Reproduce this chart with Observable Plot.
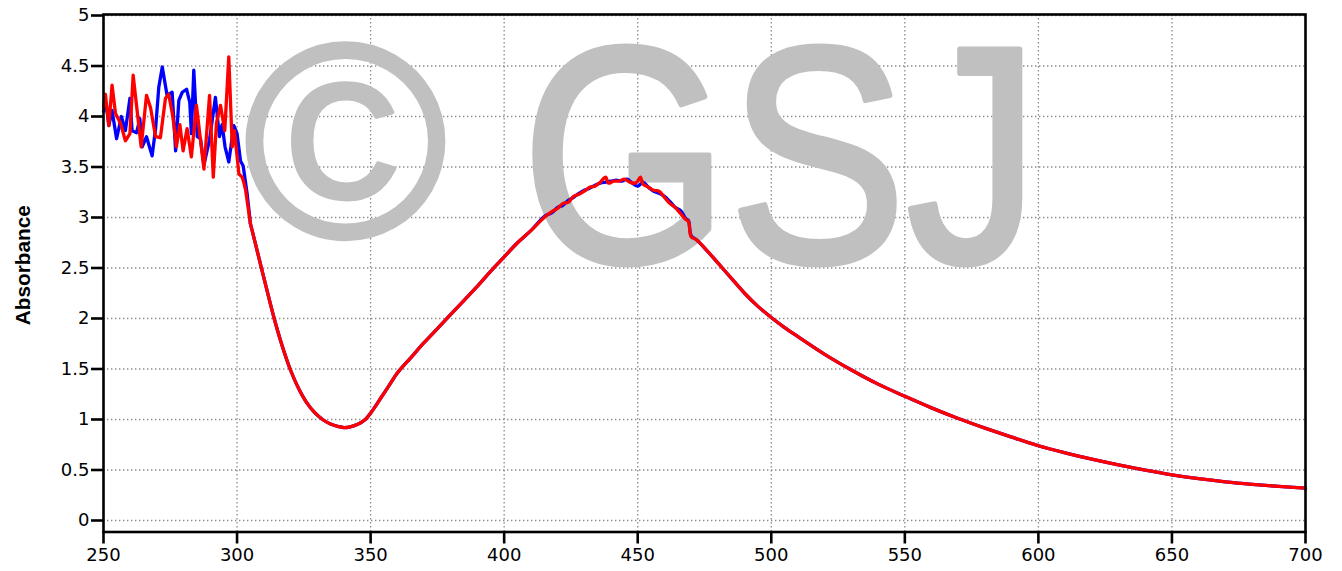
<!DOCTYPE html>
<html>
<head>
<meta charset="utf-8">
<script src="https://cdn.jsdelivr.net/npm/d3@7"></script>
<script src="https://cdn.jsdelivr.net/npm/@observablehq/plot@0.6"></script>
<style>
  html, body { margin: 0; padding: 0; background: #fff; }
</style>
</head>
<body>
<div id="chart"></div>
<script>
// ---- Data ----
const xTicks = [250, 300, 350, 400, 450, 500, 550, 600, 650, 700];
const yTicks = [0, 0.5, 1, 1.5, 2, 2.5, 3, 3.5, 4, 4.5, 5];

// noisy UV part, blue series
const noisyNmBlue = [250, 251, 252, 253.2, 254.9, 256.7, 258.2, 259.9, 260.7, 262.4, 263.6, 264.5, 266.1, 268.2, 269.5, 270.7, 272, 273.8, 275.7, 277, 278.2, 279.5, 281.1, 282.3, 282.9, 283.8, 285.1, 286.3, 287.6, 289.7, 291.9, 293.4, 294.4, 295.5, 296.9, 298.8, 300, 301.3, 302.3, 303.8, 305];
const noisyBlue   = [4.05, 4.12, 3.91, 4.06, 3.78, 4.00, 3.86, 4.18, 3.86, 3.84, 3.98, 3.70, 3.80, 3.61, 3.88, 4.29, 4.49, 4.21, 4.24, 3.66, 4.16, 4.24, 4.27, 4.14, 3.83, 4.46, 3.80, 3.78, 3.52, 3.77, 4.19, 3.80, 3.92, 3.70, 3.55, 3.91, 3.83, 3.56, 3.51, 3.23, 2.94];

// noisy UV part, red series
const noisyNmRed = [250, 250.7, 252, 253.2, 254.5, 256.4, 258.2, 259.9, 261.1, 264.1, 266.1, 267.6, 269.5, 271.3, 273.2, 274.4, 275.7, 276.3, 277.3, 278.6, 279.8, 281.3, 282.9, 284.8, 287.6, 289.7, 291.1, 292.3, 293.8, 295.4, 296.9, 298.2, 299, 300.7, 301.9, 302.5, 303.2, 305];
const noisyRed   = [4.10, 4.22, 3.91, 4.31, 4.03, 3.93, 3.76, 3.83, 4.41, 3.70, 4.21, 4.09, 3.80, 3.79, 4.18, 4.22, 4.04, 3.93, 3.70, 3.92, 3.66, 3.88, 3.60, 4.11, 3.48, 4.21, 3.40, 3.94, 4.11, 3.86, 4.59, 3.70, 3.86, 3.43, 3.40, 3.35, 3.27, 2.94];

// shared smooth part: minimum and rising edge
const riseNm  = [305, 308, 311, 314, 317, 320, 323, 326, 329, 332, 335, 338, 340, 342, 345, 348, 351, 354, 357, 360, 365, 370, 375, 380, 385, 390, 395, 400, 405, 410];
const riseAbs = [2.94, 2.62, 2.30, 1.99, 1.72, 1.49, 1.31, 1.17, 1.07, 1.00, 0.955, 0.93, 0.92, 0.925, 0.95, 1.00, 1.10, 1.22, 1.34, 1.46, 1.61, 1.76, 1.90, 2.04, 2.18, 2.32, 2.47, 2.61, 2.75, 2.87];

// band maximum, slightly noisy
const peakNmBlue = [415, 418, 420, 422, 424, 426, 428, 430, 432, 434, 436, 438, 440, 442, 444, 446, 448, 450, 452, 454, 456, 458, 460, 462, 464, 466, 468, 469, 470, 472];
const peakBlue   = [3.01, 3.05, 3.10, 3.12, 3.17, 3.20, 3.24, 3.27, 3.29, 3.32, 3.34, 3.35, 3.36, 3.37, 3.36, 3.38, 3.34, 3.31, 3.35, 3.30, 3.26, 3.24, 3.21, 3.16, 3.10, 3.07, 2.99, 2.97, 2.82, 2.78];
const peakNmRed  = [415, 418, 420, 422, 424, 426, 428, 430, 432, 434, 436, 438, 439, 441, 443, 445, 447, 449, 450, 451, 452, 454, 456, 458, 460, 462, 464, 466, 468, 469, 470, 472];
const peakRed    = [3.00, 3.06, 3.09, 3.14, 3.15, 3.21, 3.23, 3.26, 3.30, 3.31, 3.35, 3.40, 3.34, 3.36, 3.36, 3.38, 3.35, 3.34, 3.36, 3.40, 3.33, 3.30, 3.27, 3.26, 3.20, 3.14, 3.10, 3.04, 2.98, 2.96, 2.81, 2.78];

// shared smooth tail
const tailNm  = [476, 480, 485, 490, 495, 500, 505, 510, 520, 530, 540, 550, 560, 570, 580, 590, 600, 610, 620, 630, 640, 650, 660, 670, 680, 690, 700];
const tailAbs = [2.67, 2.55, 2.40, 2.25, 2.12, 2.01, 1.91, 1.82, 1.645, 1.49, 1.35, 1.23, 1.115, 1.01, 0.915, 0.825, 0.74, 0.67, 0.607, 0.55, 0.498, 0.452, 0.414, 0.383, 0.358, 0.337, 0.32];

const seriesColors = {blue: "#0000ff", red: "#ff0000"};
const yLabel = "Absorbance";
const watermarkSymbol = "©";
const watermarkText = "GSJ";

// ---- tables built from the arrays ----
const pts = (nm, a) => nm.map((x, i) => ({x, y: a[i]}));
const blueNoisy = pts(noisyNmBlue, noisyBlue);
const redNoisy = pts(noisyNmRed, noisyRed);
const blueSmooth = [...pts(riseNm, riseAbs), ...pts(peakNmBlue, peakBlue), ...pts(tailNm, tailAbs)];
const redSmooth = [...pts(riseNm, riseAbs), ...pts(peakNmRed, peakRed), ...pts(tailNm, tailAbs)];

const gridStyle = {stroke: "#8a8a8a", strokeOpacity: 1, strokeWidth: 1.3, strokeDasharray: "1.4,2.6"};
const lineW = 3.3;
const wmColor = "#c0c0c0";

const chart = Plot.plot({
  width: 1342,
  height: 571,
  marginLeft: 103,
  marginRight: 37,
  marginTop: 14,
  marginBottom: 39.5,
  style: {fontFamily: "'DejaVu Sans', Verdana, sans-serif", fontSize: "18px", color: "#000", background: "#fff"},
  x: {domain: [250, 700]},
  y: {domain: [-0.114, 5.01]},
  marks: [
    Plot.gridX(xTicks, gridStyle),
    Plot.gridY(yTicks, gridStyle),
    Plot.text([watermarkSymbol], {
      frameAnchor: "top-left", dx: 242, dy: 222, text: d => d,
      textAnchor: "middle", lineAnchor: "bottom", fontSize: 276,
      fontFamily: "'Liberation Sans', Arial, sans-serif", fill: wmColor,
      stroke: wmColor, strokeWidth: 5, strokeLinejoin: "round"
    }),
    Plot.text([watermarkText], {
      frameAnchor: "top-left", dx: 418, dy: 247, text: d => d,
      textAnchor: "start", lineAnchor: "bottom", fontSize: 308,
      fontFamily: "'Liberation Sans', Arial, sans-serif", fill: wmColor,
      stroke: wmColor, strokeWidth: 6, strokeLinejoin: "round"
    }),
    Plot.line(blueNoisy, {x: "x", y: "y", stroke: seriesColors.blue, strokeWidth: lineW, curve: "linear"}),
    Plot.line(blueSmooth, {x: "x", y: "y", stroke: seriesColors.blue, strokeWidth: lineW, curve: "catmull-rom"}),
    Plot.line(redNoisy, {x: "x", y: "y", stroke: seriesColors.red, strokeWidth: lineW, curve: "linear"}),
    Plot.line(redSmooth, {x: "x", y: "y", stroke: seriesColors.red, strokeWidth: lineW, curve: "catmull-rom"}),
    Plot.frame({stroke: "#000", strokeWidth: 2.6}),
    Plot.axisX(xTicks, {tickSize: 12, tickPadding: 4, strokeWidth: 2.6, tickFormat: d => String(d), label: null, fontSize: 18}),
    Plot.axisY(yTicks, {tickSize: 12, tickPadding: 2, strokeWidth: 2.6, tickFormat: d => String(d), label: null, fontSize: 18}),
    Plot.text([yLabel], {
      frameAnchor: "left", dx: -80.5, dy: -8, text: d => d, rotate: -90,
      textAnchor: "middle", lineAnchor: "middle", fontSize: 21, fontWeight: "bold",
      fontFamily: "'Liberation Sans', Arial, sans-serif", fill: "#000"
    })
  ]
});

const setLen = (content, len) => {
  chart.querySelectorAll("text").forEach(t => {
    if (t.textContent === content) {
      t.setAttribute("textLength", len);
      t.setAttribute("lengthAdjust", "spacingAndGlyphs");
    }
  });
};
setLen(yLabel, 120);
setLen(watermarkText, 518);

document.getElementById("chart").appendChild(chart);
</script>
</body>
</html>
